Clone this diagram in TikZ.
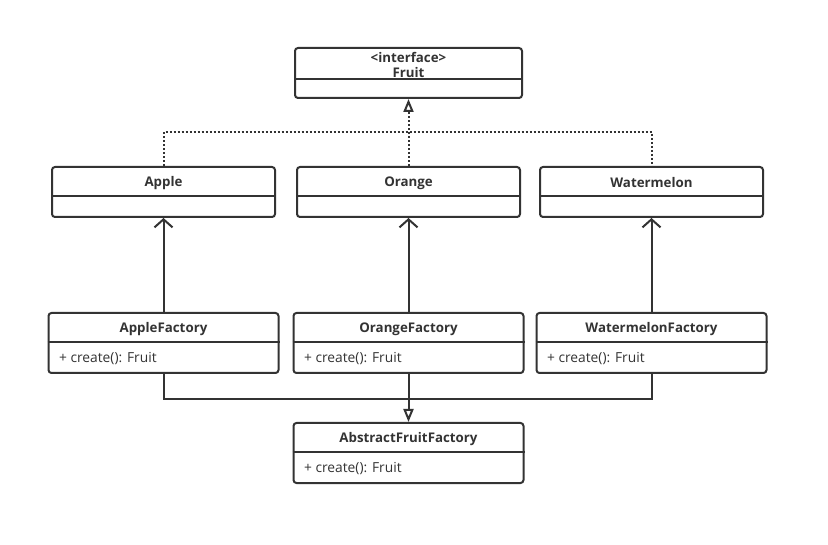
\documentclass[tikz,border=0pt]{standalone}
\usepackage{fontspec}
\setmainfont{Open Sans}
\usetikzlibrary{arrows.meta}
\definecolor{myGray}{RGB}{51,51,51}

\begin{document}
\begin{tikzpicture}[x=1pt,y=-1pt,
		box/.style={draw=myGray,line width=2pt,rounded corners=3pt,inner sep=0pt},
		title/.style={font=\fontsize{13.3}{15}\selectfont\bfseries,text=myGray,align=center},
		member/.style={font=\fontsize{13.8}{15}\selectfont,text=myGray,anchor=west},
		link/.style={draw=myGray,line width=2pt},
		dots/.style={dash pattern=on 2pt off 2pt},
		realize/.style={-{Triangle[open,length=13pt,width=10pt,line width=2pt]}},
		assoc/.style={-{Straight Barb[length=8pt,width=18pt,line width=2pt]}}]
		\useasboundingbox (0,0) rectangle (828,545);
		
		% interface
		\node[box,minimum width=227pt,minimum height=50pt] (fruit) at (408.5,73) {};
		\draw[link] ([yshift=-32pt]fruit.north west) -- ([yshift=-32pt]fruit.north east);
		\node[title] (fruitName) at ([yshift=-18pt]fruit.north) {<interface>\\Fruit};
		
		% products
		\begin{scope}
			\node[box,minimum width=223pt,minimum height=50pt] (apple) at (163.5,192) {};
			\node[box,minimum width=223pt,minimum height=50pt] (orange) at (408.5,192) {};
			\node[box,minimum width=223pt,minimum height=50pt] (watermelon) at (651.5,192) {};
			\draw[link] ([yshift=-30pt]apple.north west) -- ([yshift=-30pt]apple.north east);
			\draw[link] ([yshift=-30pt]orange.north west) -- ([yshift=-30pt]orange.north east);
			\draw[link] ([yshift=-30pt]watermelon.north west) -- ([yshift=-30pt]watermelon.north east);
			\node[title] (appleName) at ([yshift=-17pt]apple.north) {Apple};
			\node[title] (orangeName) at ([yshift=-17pt]orange.north) {Orange};
			\node[title] (watermelonName) at ([yshift=-17pt]watermelon.north) {Watermelon};
		\end{scope}
		
		% factories
		\begin{scope}
			\node[box,minimum width=230pt,minimum height=60pt] (appleFactory) at (163.5,343) {};
			\node[box,minimum width=230pt,minimum height=60pt] (orangeFactory) at (408.5,343) {};
			\node[box,minimum width=230pt,minimum height=60pt] (watermelonFactory) at (651.5,343) {};
			\node[box,minimum width=230pt,minimum height=60pt] (abstractFactory) at (408.5,453) {};
			\draw[link] ([yshift=-30pt]appleFactory.north west) -- ([yshift=-30pt]appleFactory.north east);
			\draw[link] ([yshift=-30pt]orangeFactory.north west) -- ([yshift=-30pt]orangeFactory.north east);
			\draw[link] ([yshift=-30pt]watermelonFactory.north west) -- ([yshift=-30pt]watermelonFactory.north east);
			\draw[link] ([yshift=-30pt]abstractFactory.north west) -- ([yshift=-30pt]abstractFactory.north east);
			\node[title] (appleFactoryName) at ([yshift=-17pt]appleFactory.north) {AppleFactory};
			\node[title] (orangeFactoryName) at ([yshift=-17pt]orangeFactory.north) {OrangeFactory};
			\node[title] (watermelonFactoryName) at ([yshift=-17pt]watermelonFactory.north) {WatermelonFactory};
			\node[title] (abstractFactoryName) at ([yshift=-17pt]abstractFactory.north) {AbstractFruitFactory};
			\node[member] (appleCreate) at ([xshift=8pt,yshift=-47pt]appleFactory.north west) {+ create(): Fruit};
			\node[member] (orangeCreate) at ([xshift=8pt,yshift=-47pt]orangeFactory.north west) {+ create(): Fruit};
			\node[member] (watermelonCreate) at ([xshift=8pt,yshift=-47pt]watermelonFactory.north west) {+ create(): Fruit};
			\node[member] (abstractCreate) at ([xshift=8pt,yshift=-47pt]abstractFactory.north west) {+ create(): Fruit};
		\end{scope}
		
		% realization of the interface
		\draw[link,dots] (apple.north) -- ++(0,-34) -| (watermelon.north);
		\draw[link,dots,realize] (orange.north) -- (fruit.south);
		
		% factories create products
		\draw[link,assoc] (appleFactory.north) -- (apple.south);
		\draw[link,assoc] (orangeFactory.north) -- (orange.south);
		\draw[link,assoc] (watermelonFactory.north) -- (watermelon.south);
		
		% factories extend the abstract factory
		\draw[link] (appleFactory.south) -- ++(0,25) -| (watermelonFactory.south);
		\draw[link,realize] (orangeFactory.south) -- (abstractFactory.north);
	\end{tikzpicture}
\end{document}
